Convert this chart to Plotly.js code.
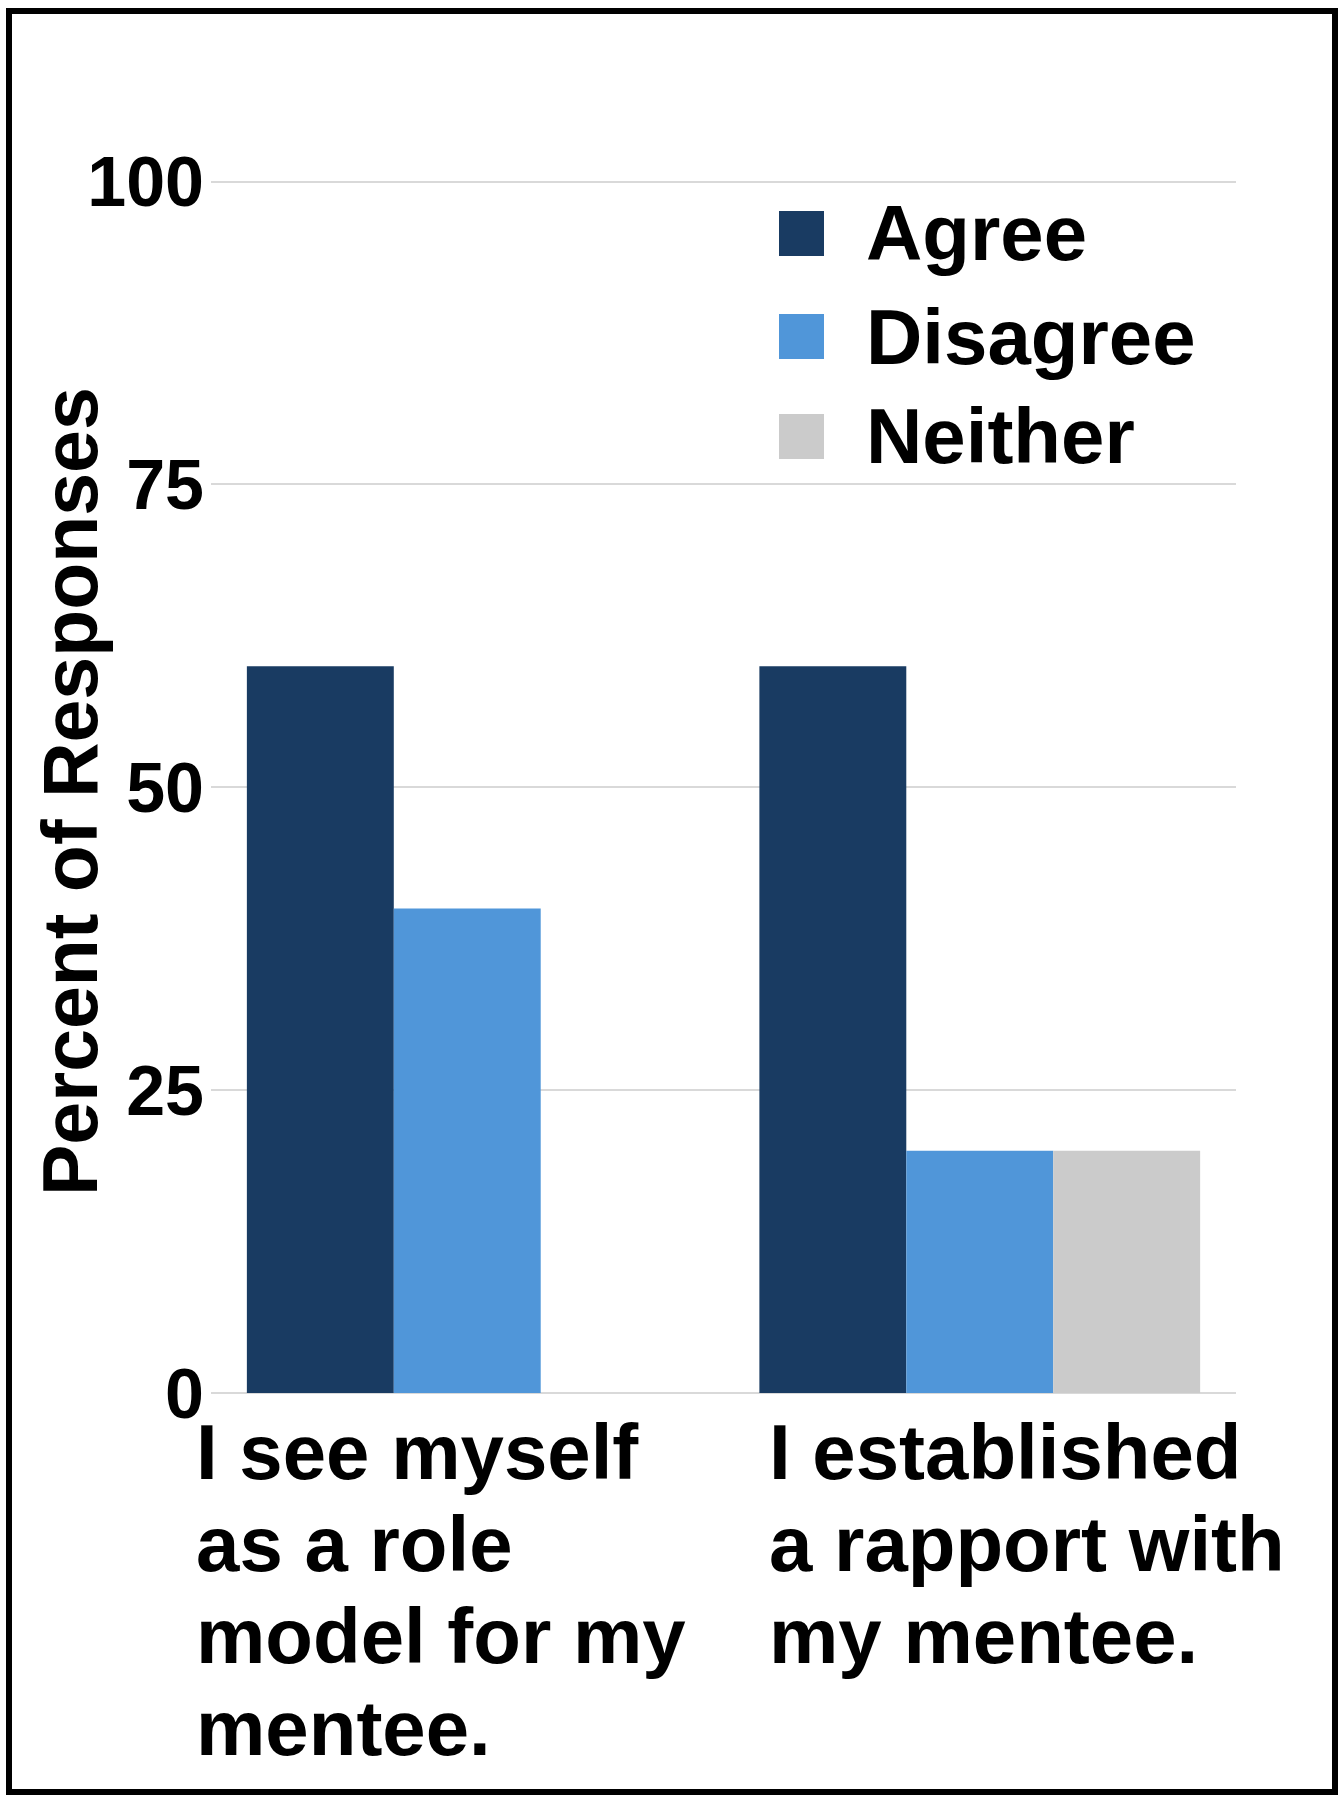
<!DOCTYPE html>
<html>
<head>
<meta charset="utf-8">
<script src="https://cdn.plot.ly/plotly-3.0.1.min.js"></script>
<style>
  html, body { margin: 0; padding: 0; background: #ffffff; }
  #wrap { position: relative; width: 1343px; height: 1800px; }
  #chart { position: absolute; left: 0; top: 0; width: 1343px; height: 1800px; }
  #frame { position: absolute; left: 6px; top: 8px; width: 1332px; height: 1787px;
           box-sizing: border-box; border: 6px solid #000; pointer-events: none; }
</style>
</head>
<body>
<div id="wrap">
  <div id="chart"></div>
  <div id="frame"></div>
</div>
<script>
// ---- data ----
const categories = ["I see myself as a role model for my mentee.", "I established a rapport with my mentee."];
const labelLines1 = ["I see myself", "as a role", "model for my", "mentee."];
const labelLines2 = ["I established", "a rapport with", "my mentee."];
const seriesNames = ["Agree", "Disagree", "Neither"];
const agreeValues = [60, 60];
const disagreeValues = [40, 20];
const neitherValues = [0, 20];
const seriesColors = ["#193b62", "#5096d9", "#cbcbcb"];
const yTickValues = [0, 25, 50, 75, 100];
const yTitle = "Percent of Responses";

// ---- layout constants (pixels) ----
const W = 1343, H = 1800;
const M = { l: 211, r: 107, t: 121, b: 407 };
const plotW = W - M.l - M.r, plotH = H - M.t - M.b;
const px2x = px => (px - M.l) / plotW;
const px2y = py => (H - M.b - py) / plotH;

const FONT = "Liberation Sans, Arial, Helvetica, sans-serif";
const bigFont = { family: FONT, size: 78, color: "#000000", weight: "bold" };

const seriesValues = [agreeValues, disagreeValues, neitherValues];
const traces = seriesNames.map((name, i) => ({
  type: "bar",
  name: name,
  x: categories,
  y: seriesValues[i],
  marker: { color: seriesColors[i], line: { width: 0 } },
  showlegend: false,
  hoverinfo: "x+y+name"
}));

const annotations = [];
const shapes = [];

// category labels, one line per annotation, left aligned
const labelLines = [labelLines1, labelLines2];
const labelShift = [-273, -213];
labelLines.forEach((lines, i) => {
  lines.forEach((t, j) => {
    annotations.push({
      xref: "x", yref: "paper", x: categories[i], y: 0,
      xanchor: "left", yanchor: "middle",
      xshift: labelShift[i], yshift: -(59 + j * 92),
      text: t, showarrow: false, font: bigFont
    });
  });
});

// y-axis title
annotations.push({
  xref: "paper", yref: "paper", x: px2x(70), y: px2y(792),
  xanchor: "center", yanchor: "middle", textangle: -90,
  text: yTitle, showarrow: false,
  font: { family: FONT, size: 77, color: "#000000", weight: "bold" }
});

// custom legend with large swatches
const legendRowTop = [211, 314, 414];
seriesNames.forEach((name, i) => {
  const top = legendRowTop[i];
  shapes.push({
    type: "rect", xref: "paper", yref: "paper",
    x0: px2x(779), x1: px2x(824), y0: px2y(top + 45), y1: px2y(top),
    fillcolor: seriesColors[i], line: { width: 0 }
  });
  annotations.push({
    xref: "paper", yref: "paper", x: px2x(864), y: px2y(top + 22.5),
    xanchor: "left", yanchor: "middle",
    text: name, showarrow: false, font: bigFont
  });
});

const layout = {
  width: W, height: H,
  margin: M,
  paper_bgcolor: "#ffffff",
  plot_bgcolor: "#ffffff",
  barmode: "group",
  bargap: 0.14,
  bargroupgap: 0,
  showlegend: false,
  font: { family: FONT, color: "#000000" },
  xaxis: {
    type: "category",
    autorange: false,
    range: [-0.5, categories.length - 0.5],
    showticklabels: false,
    showgrid: false,
    zeroline: false,
    showline: false,
    ticks: ""
  },
  yaxis: {
    autorange: false,
    range: [0, 105],
    tickmode: "array",
    tickvals: yTickValues,
    ticktext: yTickValues.map(String),
    tickfont: { family: FONT, size: 70, color: "#000000", weight: "bold" },
    ticklabelstandoff: 6,
    showgrid: true,
    gridcolor: "#d9d9d9",
    gridwidth: 2,
    zeroline: true,
    zerolinecolor: "#d9d9d9",
    zerolinewidth: 2,
    showline: false,
    ticks: ""
  },
  annotations: annotations,
  shapes: shapes
};

Plotly.newPlot("chart", traces, layout, { displayModeBar: false, staticPlot: true });
</script>
</body>
</html>
